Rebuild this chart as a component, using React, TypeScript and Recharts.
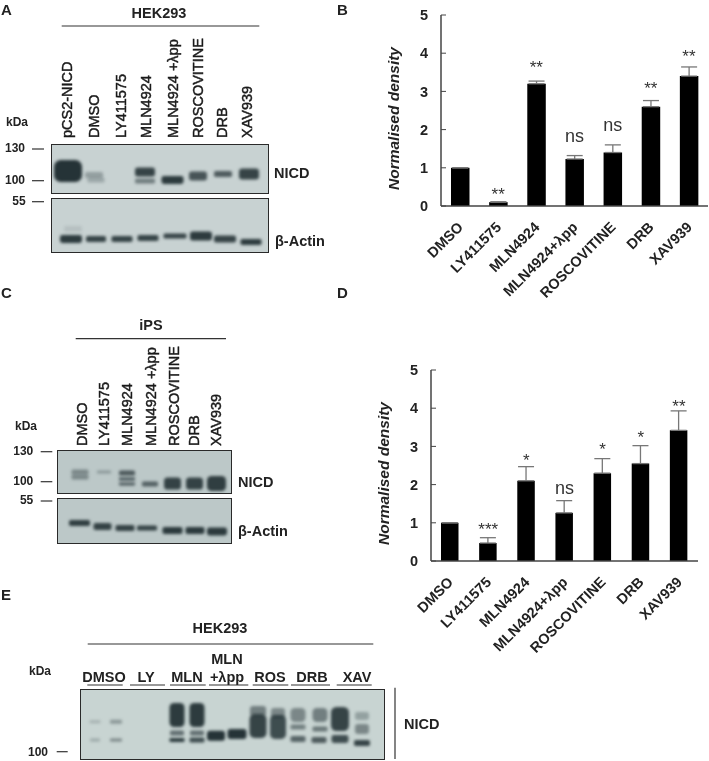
import React from "react";
import { ComposedChart, Bar, Line, XAxis, YAxis, ErrorBar, ScatterChart, Scatter } from "recharts";

const FONT = "'Liberation Sans', Arial, sans-serif";
const INK = "#222";

const categories = ["DMSO", "LY411575", "MLN4924", "MLN4924+λpp", "ROSCOVITINE", "DRB", "XAV939"];

const valuesB = [1, 0.1, 3.2, 1.23, 1.4, 2.6, 3.4];
const errorsB = [0, 0.01, 0.07, 0.09, 0.2, 0.16, 0.24];
const sigB = ["", "**", "**", "ns", "ns", "**", "**"];
const sigPosB = [null, 0.16, 3.48, 1.68, 1.97, 2.93, 3.77];

const valuesD = [1, 0.47, 2.1, 1.26, 2.3, 2.55, 3.42];
const errorsD = [0, 0.14, 0.37, 0.32, 0.38, 0.47, 0.51];
const sigD = ["", "***", "*", "ns", "*", "*", "**"];
const sigPosD = [null, 0.67, 2.49, 1.75, 2.78, 3.1, 3.9];

const yTicks = [0, 1, 2, 3, 4, 5];

type Band = { x: number; y: number; w: number; h: number; o: number };
const b = (x: number, y: number, w: number, h: number, o: number): Band => ({ x, y, w, h, o });

const gelANicd = [b(17, 27, 28, 22, 0.95), b(43, 31, 18, 6, 0.3), b(45, 36, 17, 5, 0.25), b(94, 28, 20, 9, 0.85), b(94, 37, 20, 5, 0.5), b(121.5, 36, 22, 8, 0.9), b(147, 32, 18, 9, 0.75), b(172, 30, 18, 6, 0.7), b(198, 30, 20, 11, 0.85)];
const gelAActin = [b(22, 31, 18, 6, 0.1), b(20, 41, 22, 8, 0.9), b(45, 41, 20, 6, 0.85), b(71, 41, 21, 6, 0.85), b(97, 40, 21, 6, 0.85), b(124, 38, 23, 5, 0.85), b(150, 38, 22, 9, 0.9), b(174, 41, 22, 7, 0.85), b(200, 44, 21, 6, 0.9)];
const gelCNicd = [b(23, 22, 17, 5, 0.4), b(23, 27, 17, 5, 0.4), b(47, 22, 14, 3, 0.3), b(70, 23, 16, 5, 0.7), b(70, 29, 16, 4, 0.6), b(70, 34, 16, 3, 0.7), b(93, 34, 16, 5, 0.65), b(115.5, 33.5, 17, 12, 0.85), b(137.5, 33.5, 17, 12, 0.85), b(159.5, 33.5, 19, 15, 0.88)];
const gelCActin = [b(22.5, 25, 21, 6, 0.88), b(45.5, 28.5, 18, 7, 0.85), b(68, 30, 19, 6, 0.85), b(90, 30, 20, 5, 0.85), b(115.5, 32.5, 20, 7, 0.9), b(138, 32.5, 19, 7, 0.9), b(160, 33.5, 20, 8, 0.9)];
const gelENicd = [b(15, 32.7, 11, 3, 0.2), b(36, 32.7, 12, 4, 0.35), b(15, 51, 10, 3, 0.25), b(36, 51, 12, 3, 0.45), b(97, 26, 15, 24, 0.9), b(117, 26, 15, 24, 0.9), b(97, 44, 14, 5, 0.6), b(117, 44, 14, 5, 0.6), b(97, 51, 15, 4, 0.9), b(117, 51, 15, 5, 0.8), b(136, 46.7, 18, 10, 0.95), b(157, 45, 19, 10, 0.95), b(178, 22, 16, 10, 0.5), b(178, 37, 17, 24, 0.85), b(198, 24, 14, 10, 0.45), b(198, 38, 16, 24, 0.8), b(218, 26, 15, 14, 0.45), b(218, 38, 15, 5, 0.5), b(218, 50, 15, 6, 0.65), b(240, 26, 15, 14, 0.5), b(240, 40, 15, 5, 0.55), b(239, 51, 15, 6, 0.7), b(260, 30, 18, 24, 0.85), b(260, 50, 17, 8, 0.8), b(282, 27, 14, 8, 0.3), b(282, 40, 14, 10, 0.45), b(282, 54, 16, 6, 0.85)];

const verticalA = ["pCS2-NICD", "DMSO", "LY411575", "MLN4924", "MLN4924 +λpp", "ROSCOVITINE", "DRB", "XAV939"];
const verticalAX = [71.7, 99.3, 125.7, 150.7, 177.7, 202.7, 227.3, 251.7];
const verticalC = ["DMSO", "LY411575", "MLN4924", "MLN4924 +λpp", "ROSCOVITINE", "DRB", "XAV939"];
const verticalCX = [86.7, 109, 131.7, 155.7, 179, 199, 220.7];

const BandShape = (props: any) => {
  const { cx, cy, payload } = props;
  return (
    <rect
      x={cx - payload.w / 2}
      y={cy - payload.h / 2}
      width={payload.w}
      height={payload.h}
      rx={Math.min(payload.h, payload.w) * 0.3}
      fill="#1c2a2e"
      fillOpacity={payload.o}
      style={{ filter: "blur(1.7px)" }}
    />
  );
};

function Gel({ left, top, width, height, bands, bg }: { left: number; top: number; width: number; height: number; bands: Band[]; bg: string }) {
  return (
    <div style={{ position: "absolute", left, top, width, height, background: bg, outline: "1.4px solid #2a2a2a", outlineOffset: "-1px", overflow: "hidden" }}>
      <ScatterChart width={width} height={height} margin={{ top: 0, right: 0, bottom: 0, left: 0 }}>
        <XAxis type="number" dataKey="x" domain={[0, width]} hide />
        <YAxis type="number" dataKey="y" domain={[0, height]} reversed hide />
        <Scatter data={bands} shape={BandShape} isAnimationActive={false} />
      </ScatterChart>
    </div>
  );
}

const XTick = (props: any) => {
  const { x, y, payload } = props;
  return (
    <text x={x + 4} y={y + 14} textAnchor="end" fontFamily={FONT} fontWeight={700} fontSize={14.5} fill={INK} transform={`rotate(-45 ${x + 4} ${y + 14})`}>
      {payload.value}
    </text>
  );
};

function Density({ left, top, width, height, axisX, plotTop, plotBottom, rightGap, barSize, values, errors, sig, sigPos, labelDx }: any) {
  const data = categories.map((c, i) => ({ name: c, value: values[i], err: [0, errors[i]], sigPos: sigPos[i] }));
  const renderSig = (p: any) => {
    const t = sig[p.index];
    if (!t || p.value == null) return null;
    const ns = t === "ns";
    return (
      <text key={p.index} x={p.x} y={p.y} textAnchor="middle" fontFamily={FONT} fontSize={ns ? 18 : 17} fill="#333">
        {t}
      </text>
    );
  };
  return (
    <div style={{ position: "absolute", left, top }}>
      <ComposedChart width={width} height={height} data={data} margin={{ top: plotTop, right: rightGap, bottom: 0, left: 0 }}>
        <XAxis dataKey="name" height={height - plotBottom} interval={0} tick={XTick} tickLine={false} axisLine={{ stroke: "#444", strokeWidth: 1.5 }} />
        <YAxis
          width={axisX}
          domain={[0, 5]}
          ticks={yTicks}
          tickSize={-5}
          tickMargin={18}
          tick={{ fontFamily: FONT, fontWeight: 700, fontSize: 14.5, fill: INK }}
          tickLine={{ stroke: "#444", strokeWidth: 1 }}
          axisLine={{ stroke: "#444", strokeWidth: 1.5 }}
          label={{ value: "Normalised density", angle: -90, position: "center", dx: labelDx, dy: 8, style: { fontFamily: FONT, fontWeight: 700, fontStyle: "italic", fontSize: 15.5, fill: INK } }}
        />
        <Bar dataKey="value" fill="#000" barSize={barSize} isAnimationActive={false}>
          <ErrorBar dataKey="err" direction="y" width={8} stroke="#777" strokeWidth={1.3} isAnimationActive={false} />
        </Bar>
        <Line dataKey="sigPos" stroke="none" dot={false} activeDot={false} legendType="none" label={renderSig} isAnimationActive={false} connectNulls={false} />
      </ComposedChart>
    </div>
  );
}

const T = ({ x, y, c, size = 14.5, anchor = "start", weight = 700 }: any) => (
  <text x={x} y={y} fontFamily={FONT} fontSize={size} fontWeight={weight} textAnchor={anchor} fill={INK}>{c}</text>
);
const L = ({ x1, x2, y }: any) => <line x1={x1} x2={x2} y1={y} y2={y} stroke="#333" strokeWidth={1.2} />;

const Vert = ({ x, y, c }: any) => (
  <text x={x} y={y} transform={`rotate(-90 ${x} ${y})`} fontFamily={FONT} fontSize={14.5} fill="#1a1a1a" stroke="#1a1a1a" strokeWidth={0.45}>{c}</text>
);

const laneE = [["DMSO", 104], ["LY", 146], ["MLN", 187], ["+λpp", 227], ["ROS", 270], ["DRB", 312], ["XAV", 357]] as [string, number][];
const underE = [[87.3, 122.7], [130, 165], [170, 205.7], [209, 248.3], [252.7, 288.3], [291, 330], [336.7, 371.7]];

export default function App() {
  return (
    <div style={{ position: "absolute", left: 0, top: 0, width: 709, height: 761, background: "#fff", overflow: "hidden", filter: "blur(0.3px)" }}>
      <Gel left={51} top={144} width={218} height={50} bands={gelANicd} bg="#c8d2d2" />
      <Gel left={51} top={198} width={218} height={55} bands={gelAActin} bg="#c8d2d2" />
      <Gel left={57} top={450} width={175} height={44} bands={gelCNicd} bg="#bcc8c8" />
      <Gel left={57} top={498} width={175} height={46} bands={gelCActin} bg="#bcc8c8" />
      <Gel left={80} top={689} width={305} height={71} bands={gelENicd} bg="#c8d4d2" />

      <Density left={350} top={0} width={359} height={312} axisX={91} plotTop={15} plotBottom={206} rightGap={1} barSize={18.5} values={valuesB} errors={errorsB} sig={sigB} sigPos={sigPosB} labelDx={-2} />
      <Density left={350} top={340} width={359} height={325} axisX={81} plotTop={30} plotBottom={221} rightGap={11} barSize={17.5} values={valuesD} errors={errorsD} sig={sigD} sigPos={sigPosD} labelDx={-7} />

      <svg width={709} height={761} style={{ position: "absolute", left: 0, top: 0, pointerEvents: "none" }}>
        <T x={1} y={15} c="A" size={15} />
        <T x={337} y={15} c="B" size={15} />
        <T x={1} y={298} c="C" size={15} />
        <T x={337} y={298} c="D" size={15} />
        <T x={1} y={600} c="E" size={15} />

        <T x={159} y={18} c="HEK293" anchor="middle" />
        <L x1={61.7} x2={259.3} y={26} />
        {verticalA.map((c, i) => <Vert key={c} x={verticalAX[i]} y={138} c={c} />)}
        <T x={6} y={126} c="kDa" size={12} />
        <T x={25} y={152} c="130" size={12} anchor="end" />
        <T x={25} y={184} c="100" size={12} anchor="end" />
        <T x={25.7} y={205} c="55" size={12} anchor="end" />
        <L x1={32} x2={44} y={149} />
        <L x1={32} x2={44} y={180.7} />
        <L x1={32} x2={44} y={201.7} />
        <T x={274} y={178.3} c="NICD" />
        <T x={275} y={245.7} c="β-Actin" />

        <T x={151} y={330} c="iPS" anchor="middle" />
        <L x1={75.7} x2={226} y={338.7} />
        {verticalC.map((c, i) => <Vert key={c} x={verticalCX[i]} y={446} c={c} />)}
        <T x={15} y={430} c="kDa" size={12} />
        <T x={33.3} y={455} c="130" size={12} anchor="end" />
        <T x={33.3} y={485} c="100" size={12} anchor="end" />
        <T x={33.3} y={504.3} c="55" size={12} anchor="end" />
        <L x1={40.7} x2={52.3} y={451.7} />
        <L x1={40.7} x2={52.3} y={481.7} />
        <L x1={40.7} x2={52.3} y={501} />
        <T x={238} y={486.7} c="NICD" />
        <T x={238} y={535.7} c="β-Actin" />

        <T x={220} y={633.3} c="HEK293" anchor="middle" />
        <L x1={87.7} x2={373.3} y={644} />
        <T x={29} y={675} c="kDa" size={12} />
        <T x={48} y={755.7} c="100" size={12} anchor="end" />
        <L x1={56.7} x2={67.7} y={751.7} />
        <T x={227} y={664} c="MLN" anchor="middle" />
        {laneE.map(([c, x]) => <T key={c} x={x} y={681.7} c={c} anchor="middle" />)}
        {underE.map(([a, z]) => <L key={a} x1={a} x2={z} y={685} />)}
        <line x1={395} x2={395} y1={687.7} y2={759} stroke="#333" strokeWidth={1.2} />
        <T x={404} y={729} c="NICD" />
      </svg>
    </div>
  );
}
